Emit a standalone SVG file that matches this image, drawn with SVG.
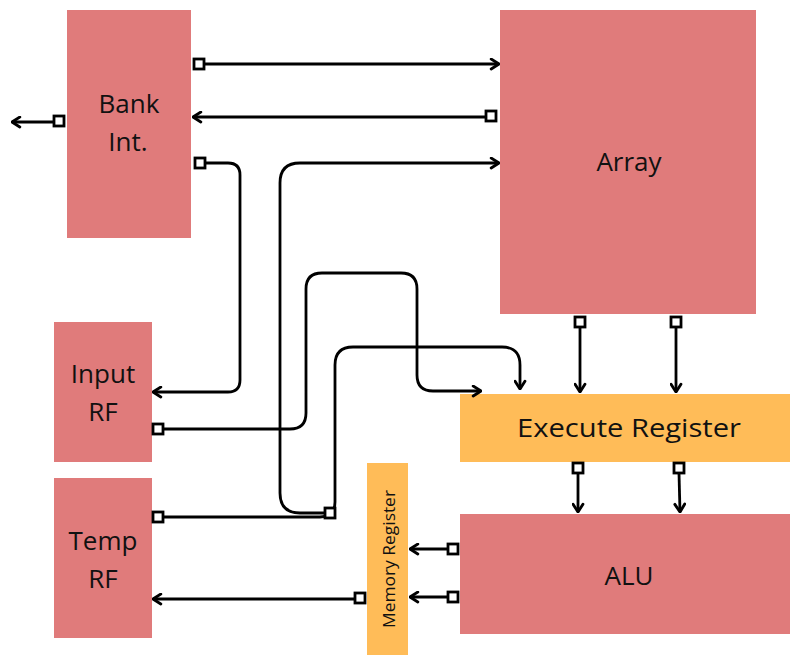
<svg xmlns="http://www.w3.org/2000/svg" width="790" height="655" viewBox="0 0 790 655">
<style>
.red{fill:#E07B7B}
.org{fill:#FFBC58}
.lbl{font-family:"Open Sans","Noto Sans",sans-serif;font-size:26px;fill:#111;text-anchor:middle}
.sm{font-family:"Open Sans","Noto Sans",sans-serif;font-size:16px;fill:#111;text-anchor:middle}
.c{fill:none;stroke:#000;stroke-width:2.8;marker-end:url(#ah)}
.sq{fill:#fff;stroke:#000;stroke-width:2.8}
</style>
<defs>
<marker id="ah" viewBox="0 0 10 10" refX="9" refY="5" markerWidth="13" markerHeight="13" markerUnits="userSpaceOnUse" orient="auto">
<path d="M3,1.2 L9,5 L3,8.8" fill="none" stroke="#000" stroke-width="2.2" stroke-linecap="round" stroke-linejoin="round"/>
</marker>
</defs>
<rect width="790" height="655" fill="#fff"/>
<g id="bank"><rect class="red" x="67" y="10" width="124" height="228"/><text class="lbl" x="129" y="113">Bank</text><text class="lbl" x="128" y="151">Int.</text></g>
<g id="array"><rect class="red" x="500" y="10" width="256" height="304"/><text class="lbl" x="629" y="171">Array</text></g>
<g id="inputrf"><rect class="red" x="54" y="322" width="98" height="140"/><text class="lbl" x="103" y="383">Input</text><text class="lbl" x="103" y="421">RF</text></g>
<g id="temprf"><rect class="red" x="54" y="478" width="98" height="160"/><text class="lbl" x="103" y="550">Temp</text><text class="lbl" x="103" y="588">RF</text></g>
<g id="exec"><rect class="org" x="460" y="394" width="330" height="68"/><text class="lbl" x="629" y="437" textLength="224" lengthAdjust="spacingAndGlyphs">Execute Register</text></g>
<g id="alu"><rect class="red" x="460" y="514" width="330" height="120"/><text class="lbl" x="629" y="585">ALU</text></g>
<g id="memreg"><rect class="org" x="367" y="463" width="41" height="192"/><text class="sm" transform="translate(395,559) rotate(-90)" textLength="138" lengthAdjust="spacingAndGlyphs">Memory Register</text></g>
<g id="connectors">
<path class="c" d="M204,64 H499"/>
<path class="c" d="M486,117 H193"/>
<path class="c" d="M54,122 H12"/>
<path class="c" d="M205,163 H228 Q240,163 240,175 V380 Q240,392 228,392 H153"/>
<path class="c" d="M325,513 H300 Q280,513 280,493 V183 Q280,163 300,163 H499"/>
<path class="c" d="M163,429 H290 Q306,429 306,413 V289 Q306,273 322,273 H401 Q417,273 417,289 V375 Q417,391 433,391 H481"/>
<path class="c" d="M163,517 H320 Q335,517 335,502 V365 Q335,347 353,347 H502 Q520,347 520,365 V389"/>
<path class="c" d="M580,327 V392"/>
<path class="c" d="M676,327 V392"/>
<path class="c" d="M578,473 V512"/>
<path class="c" d="M679,473 L680,512"/>
<path class="c" d="M448,549 H410"/>
<path class="c" d="M448,597 H410"/>
<path class="c" d="M355,599 H153"/>
<rect class="sq" x="194" y="59" width="10" height="10"/>
<rect class="sq" x="486" y="111" width="10" height="10"/>
<rect class="sq" x="54" y="116" width="10" height="10"/>
<rect class="sq" x="195" y="158" width="10" height="10"/>
<rect class="sq" x="325" y="508" width="10" height="10"/>
<rect class="sq" x="153" y="424" width="10" height="10"/>
<rect class="sq" x="153" y="512" width="10" height="10"/>
<rect class="sq" x="575" y="317" width="10" height="10"/>
<rect class="sq" x="671" y="317" width="10" height="10"/>
<rect class="sq" x="573" y="463" width="10" height="10"/>
<rect class="sq" x="674" y="463" width="10" height="10"/>
<rect class="sq" x="448" y="544" width="10" height="10"/>
<rect class="sq" x="448" y="592" width="10" height="10"/>
<rect class="sq" x="355" y="593" width="10" height="10"/>
</g>
</svg>
